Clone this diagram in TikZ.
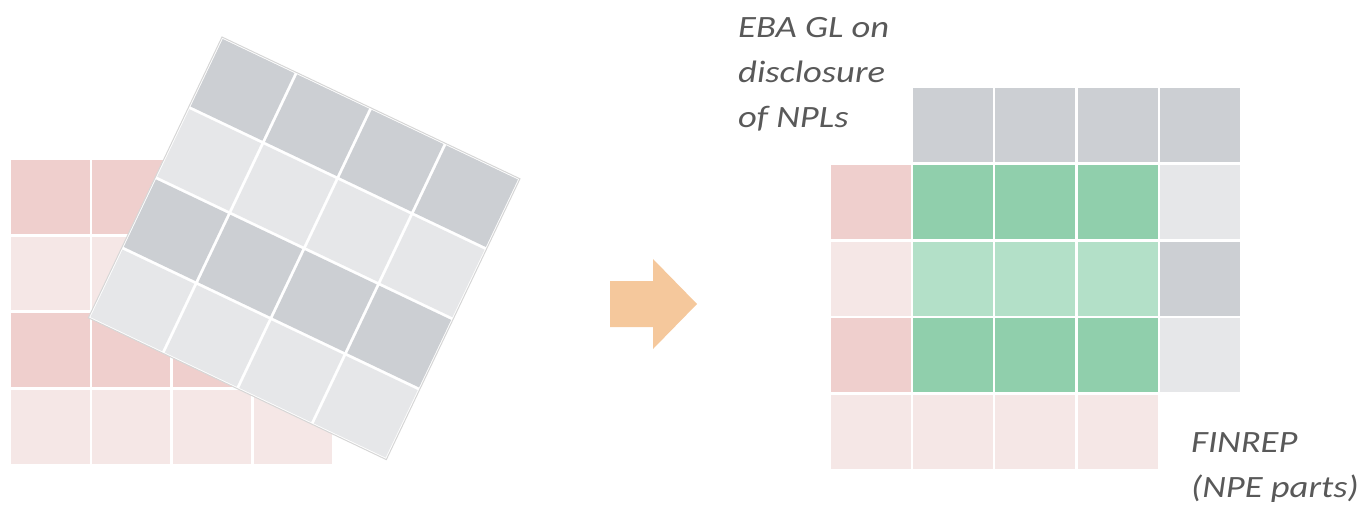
\documentclass[tikz,border=0pt]{standalone}
\usepackage{fontspec}
\setmainfont{Carlito}
\newfontfamily\lblfont{Carlito}[FakeStretch=1.18]
\usetikzlibrary{calc}

\definecolor{pinkdark}{HTML}{EFCFCD}
\definecolor{pinklight}{HTML}{F5E7E6}
\definecolor{graydark}{HTML}{CCCFD3}
\definecolor{graylight}{HTML}{E6E7E9}
\definecolor{greendark}{HTML}{90CFAC}
\definecolor{greenlight}{HTML}{B3E0C8}
\definecolor{arrowpeach}{HTML}{F5C89C}
\definecolor{labelgray}{HTML}{595959}

\tikzset{
    lbl/.style={anchor=north west, align=left, inner sep=0pt, text=labelgray,
        font=\lblfont\fontsize{31}{45}\selectfont\itshape}
}

\begin{document}
\begin{tikzpicture}[x=1pt,y=-1pt]
    \useasboundingbox (0,0) rectangle (1364,505);

    % Left: the pink grid underneath
    \foreach \r/\clr in {0/pinkdark,1/pinklight,2/pinkdark,3/pinklight}
        \foreach \c in {0,...,3}
            \fill[\clr] ({11+80.9*\c},{160+76.7*\r}) rectangle ++(78.5,73.5);

    % Left: the tilted gray grid on top
    \begin{scope}[shift={(222,37)},rotate=-25.45]
        \fill[white,draw=black!16,line width=1pt] (0,0) rectangle (330,311);
        \foreach \r/\clr in {0/graydark,1/graylight,2/graydark,3/graylight}
            \foreach \c in {0,...,3}
                \fill[\clr] ({1.5+82.5*\c},{1.5+77.75*\r}) rectangle ++(79.5,74.75);
    \end{scope}

    % The arrow in the middle
    \fill[arrowpeach] (610,281) -- (653,281) -- (653,259) -- (697,304)
        -- (653,349) -- (653,327) -- (610,327) -- cycle;

    % Right: the merged grid
    \foreach \c in {1,...,4}
        \fill[graydark] ({831+82.2*\c},88) rectangle ++(80,74);
    \foreach \r/\pk/\gr/\gy in {1/pinkdark/greendark/graylight,
                              2/pinklight/greenlight/graydark,
                              3/pinkdark/greendark/graylight} {
        \fill[\pk] (831,{88+76.8*\r}) rectangle ++(80,74);
        \foreach \c in {1,2,3}
            \fill[\gr] ({831+82.2*\c},{88+76.8*\r}) rectangle ++(80,74);
        \fill[\gy] ({831+82.2*4},{88+76.8*\r}) rectangle ++(80,74);
    }
    \foreach \c in {0,...,3}
        \fill[pinklight] ({831+82.2*\c},395) rectangle ++(80,74);

    % Labels
    \node (ebagl) [lbl] at (738,17) {EBA GL on\\disclosure\\of NPLs};
    \node (finrep) [lbl] at (1191,432) {FINREP\\(NPE parts)};

\end{tikzpicture}
\end{document}
